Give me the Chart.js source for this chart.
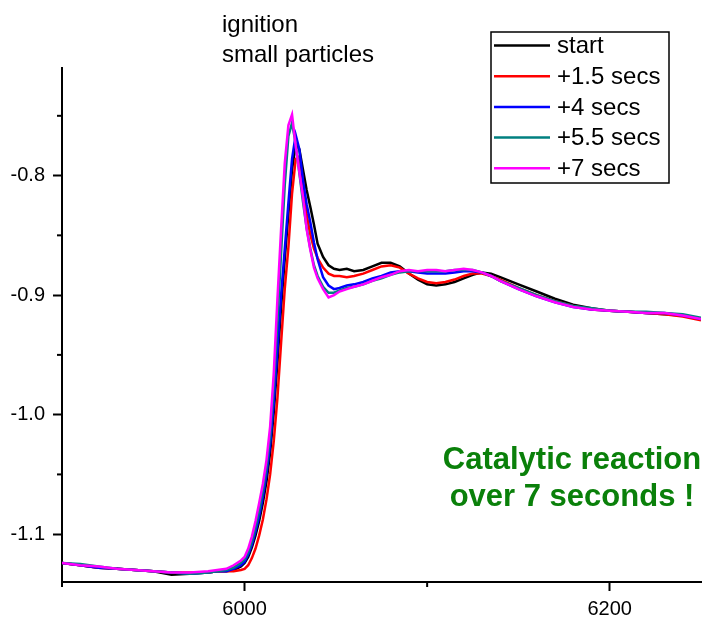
<!DOCTYPE html>
<html>
<head>
<meta charset="utf-8">
<script src="https://cdn.jsdelivr.net/npm/chart.js@4/dist/chart.umd.min.js"></script>
<style>
  html, body { margin: 0; padding: 0; background: #fff; }
  #wrap { width: 707px; height: 617px; }
</style>
</head>
<body>
<div id="wrap"><canvas id="xas"></canvas></div>
<script>
// energy grid (eV) shared by all scans
var energy = [5900, 5910, 5920, 5930, 5940, 5950, 5960, 5970, 5980, 5985, 5990, 5994, 5998,
  6000, 6002, 6004, 6006, 6008, 6010, 6012, 6014, 6016, 6018, 6020, 6022, 6024, 6026, 6028, 6030,
  6032, 6034, 6036, 6038, 6040, 6043, 6046, 6049, 6052, 6056,
  6060, 6065, 6070, 6075, 6080, 6085, 6090, 6095, 6100, 6105, 6110, 6115, 6120, 6125, 6130, 6135, 6140,
  6150, 6160, 6170, 6180, 6190, 6200, 6210, 6220, 6230, 6240, 6250];

var startVals = [-1.124, -1.126, -1.128, -1.129, -1.130, -1.131, -1.134, -1.133, -1.132, -1.131, -1.131, -1.130, -1.127,
  -1.124, -1.119, -1.111, -1.101, -1.089, -1.074, -1.056, -1.032, -0.998, -0.956, -0.910, -0.870, -0.832, -0.795, -0.774, -0.778,
  -0.795, -0.812, -0.826, -0.841, -0.857, -0.868, -0.875, -0.878, -0.879, -0.878,
  -0.880, -0.879, -0.876, -0.873, -0.873, -0.876, -0.882, -0.887, -0.891, -0.892, -0.891, -0.889, -0.886, -0.883, -0.881, -0.882, -0.885,
  -0.891, -0.897, -0.903, -0.908, -0.911, -0.913, -0.914, -0.915, -0.916, -0.917, -0.920];

var sec15Vals = [-1.124, -1.126, -1.128, -1.129, -1.130, -1.131, -1.132, -1.132, -1.132, -1.131, -1.131, -1.131, -1.130,
  -1.129, -1.126, -1.120, -1.112, -1.101, -1.088, -1.071, -1.050, -1.022, -0.986, -0.940, -0.895, -0.860, -0.815, -0.786, -0.784,
  -0.805, -0.833, -0.849, -0.861, -0.869, -0.877, -0.882, -0.884, -0.884, -0.885,
  -0.884, -0.882, -0.879, -0.876, -0.875, -0.877, -0.882, -0.886, -0.889, -0.890, -0.889, -0.887, -0.884, -0.882, -0.882, -0.884, -0.887,
  -0.894, -0.900, -0.905, -0.909, -0.912, -0.913, -0.914, -0.915, -0.916, -0.918, -0.921];

var sec4Vals = [-1.124, -1.126, -1.128, -1.129, -1.130, -1.131, -1.132, -1.133, -1.132, -1.131, -1.131, -1.129, -1.126,
  -1.123, -1.117, -1.109, -1.098, -1.085, -1.069, -1.050, -1.025, -0.990, -0.946, -0.900, -0.862, -0.823, -0.786, -0.766, -0.778,
  -0.804, -0.824, -0.839, -0.856, -0.870, -0.885, -0.892, -0.895, -0.894, -0.892,
  -0.891, -0.889, -0.886, -0.884, -0.881, -0.880, -0.880, -0.881, -0.882, -0.882, -0.882, -0.881, -0.880, -0.880, -0.881, -0.884, -0.888,
  -0.895, -0.901, -0.906, -0.910, -0.912, -0.913, -0.914, -0.915, -0.915, -0.917, -0.920];

var sec55Vals = [-1.124, -1.125, -1.127, -1.129, -1.130, -1.131, -1.132, -1.133, -1.132, -1.131, -1.130, -1.128, -1.124,
  -1.121, -1.115, -1.106, -1.094, -1.080, -1.063, -1.044, -1.017, -0.975, -0.922, -0.865, -0.808, -0.767, -0.756, -0.773, -0.798,
  -0.822, -0.844, -0.861, -0.875, -0.884, -0.893, -0.898, -0.898, -0.896, -0.894,
  -0.893, -0.891, -0.888, -0.886, -0.883, -0.881, -0.880, -0.880, -0.880, -0.880, -0.880, -0.879, -0.879, -0.879, -0.881, -0.884, -0.888,
  -0.894, -0.900, -0.905, -0.909, -0.911, -0.913, -0.914, -0.914, -0.915, -0.916, -0.919];

var sec7Vals = [-1.124, -1.126, -1.127, -1.129, -1.130, -1.131, -1.132, -1.132, -1.131, -1.130, -1.129, -1.126, -1.122,
  -1.119, -1.112, -1.102, -1.089, -1.074, -1.058, -1.038, -1.010, -0.965, -0.903, -0.845, -0.790, -0.758, -0.749, -0.775, -0.797,
  -0.818, -0.845, -0.862, -0.877, -0.886, -0.895, -0.902, -0.900, -0.897, -0.895,
  -0.893, -0.891, -0.888, -0.885, -0.883, -0.880, -0.879, -0.880, -0.879, -0.879, -0.880, -0.879, -0.878, -0.879, -0.881, -0.884, -0.888,
  -0.895, -0.901, -0.906, -0.910, -0.912, -0.913, -0.914, -0.915, -0.915, -0.917, -0.920];

var seriesNames = ['start', '+1.5 secs', '+4 secs', '+5.5 secs', '+7 secs'];
var seriesColors = ['#000000', '#ff0000', '#0000ff', '#008080', '#ff00ff'];
var seriesVals = [startVals, sec15Vals, sec4Vals, sec55Vals, sec7Vals];

var xMajorTicks = [6000, 6200];
var xMinorTicks = [5900, 6100];
var yMinorTicks = [-1.05, -0.95, -0.85, -0.75];

var noteLines = ['ignition', 'small particles'];
var greenLines = ['Catalytic reaction', 'over 7 seconds !'];

var FONT = '"Liberation Sans", Arial, Helvetica, sans-serif';

function toPoints(vals) {
  return energy.map(function (e, i) { return { x: e, y: vals[i] }; });
}

var datasets = seriesNames.map(function (name, i) {
  return {
    label: name,
    data: toPoints(seriesVals[i]),
    borderColor: seriesColors[i],
    backgroundColor: seriesColors[i],
    borderWidth: 2.5,
    pointRadius: 0,
    showLine: true,
    tension: 0,
    order: seriesNames.length - i   // last series (+7 secs) on top
  };
});

// minor ticks, legend box and the free text
var extras = {
  id: 'extras',
  afterDraw: function (chart) {
    var c = chart.ctx;
    var xs = chart.scales.x, ys = chart.scales.y;
    var area = chart.chartArea;
    c.save();
    c.strokeStyle = '#000';
    c.lineWidth = 2;
    yMinorTicks.forEach(function (v) {
      var py = ys.getPixelForValue(v);
      c.beginPath(); c.moveTo(area.left - 5, py); c.lineTo(area.left, py); c.stroke();
    });
    xMinorTicks.forEach(function (v) {
      var px = xs.getPixelForValue(v);
      c.beginPath(); c.moveTo(px, area.bottom); c.lineTo(px, area.bottom + 5); c.stroke();
    });

    // legend
    var bx = 491, by = 32, bw = 178, bh = 151;
    c.fillStyle = '#fff';
    c.fillRect(bx, by, bw, bh);
    c.lineWidth = 1.5;
    c.strokeStyle = '#000';
    c.strokeRect(bx, by, bw, bh);
    c.font = '24px ' + FONT;
    c.textBaseline = 'middle';
    c.textAlign = 'left';
    chart.data.datasets.forEach(function (ds, i) {
      var ry = 45.5 + i * 30.7;
      c.strokeStyle = ds.borderColor;
      c.lineWidth = 2.5;
      c.beginPath(); c.moveTo(bx + 3, ry); c.lineTo(bx + 59, ry); c.stroke();
      c.fillStyle = '#000';
      c.fillText(ds.label, bx + 66, ry + 1);
    });

    // note at top
    c.fillStyle = '#000';
    c.textBaseline = 'alphabetic';
    noteLines.forEach(function (t, i) { c.fillText(t, 222, 32 + i * 30); });

    // green comment
    c.font = 'bold 31px ' + FONT;
    c.fillStyle = '#0a800a';
    c.textAlign = 'center';
    greenLines.forEach(function (t, i) { c.fillText(t, 572, 469 + i * 37); });
    c.restore();
  }
};

new Chart(document.getElementById('xas'), {
  type: 'scatter',
  data: { datasets: datasets },
  options: {
    responsive: true,
    maintainAspectRatio: false,
    animation: false,
    layout: { padding: { top: 68, right: 6, left: 0, bottom: 0 } },
    plugins: { legend: { display: false }, tooltip: { enabled: false } },
    scales: {
      x: {
        type: 'linear',
        min: 5900,
        max: 6250,
        afterFit: function (s) { s.height = 35; },
        grid: { drawOnChartArea: false, drawTicks: true, tickLength: 9, tickWidth: 2, tickColor: '#000' },
        border: { display: true, color: '#000', width: 2 },
        ticks: {
          stepSize: 200,
          includeBounds: false,
          padding: 6,
          color: '#000',
          font: { size: 20, family: FONT },
          callback: function (v) { return xMajorTicks.indexOf(v) >= 0 ? String(v) : ''; }
        }
      },
      y: {
        type: 'linear',
        min: -1.14,
        max: -0.71,
        afterFit: function (s) { s.width = 62; },
        grid: { drawOnChartArea: false, drawTicks: true, tickLength: 9, tickWidth: 2, tickColor: '#000' },
        border: { display: true, color: '#000', width: 2 },
        ticks: {
          stepSize: 0.1,
          includeBounds: false,
          padding: 8,
          color: '#000',
          font: { size: 20, family: FONT },
          callback: function (v) { return Number(v).toFixed(1); }
        }
      }
    }
  },
  plugins: [extras]
});
</script>
</body>
</html>
